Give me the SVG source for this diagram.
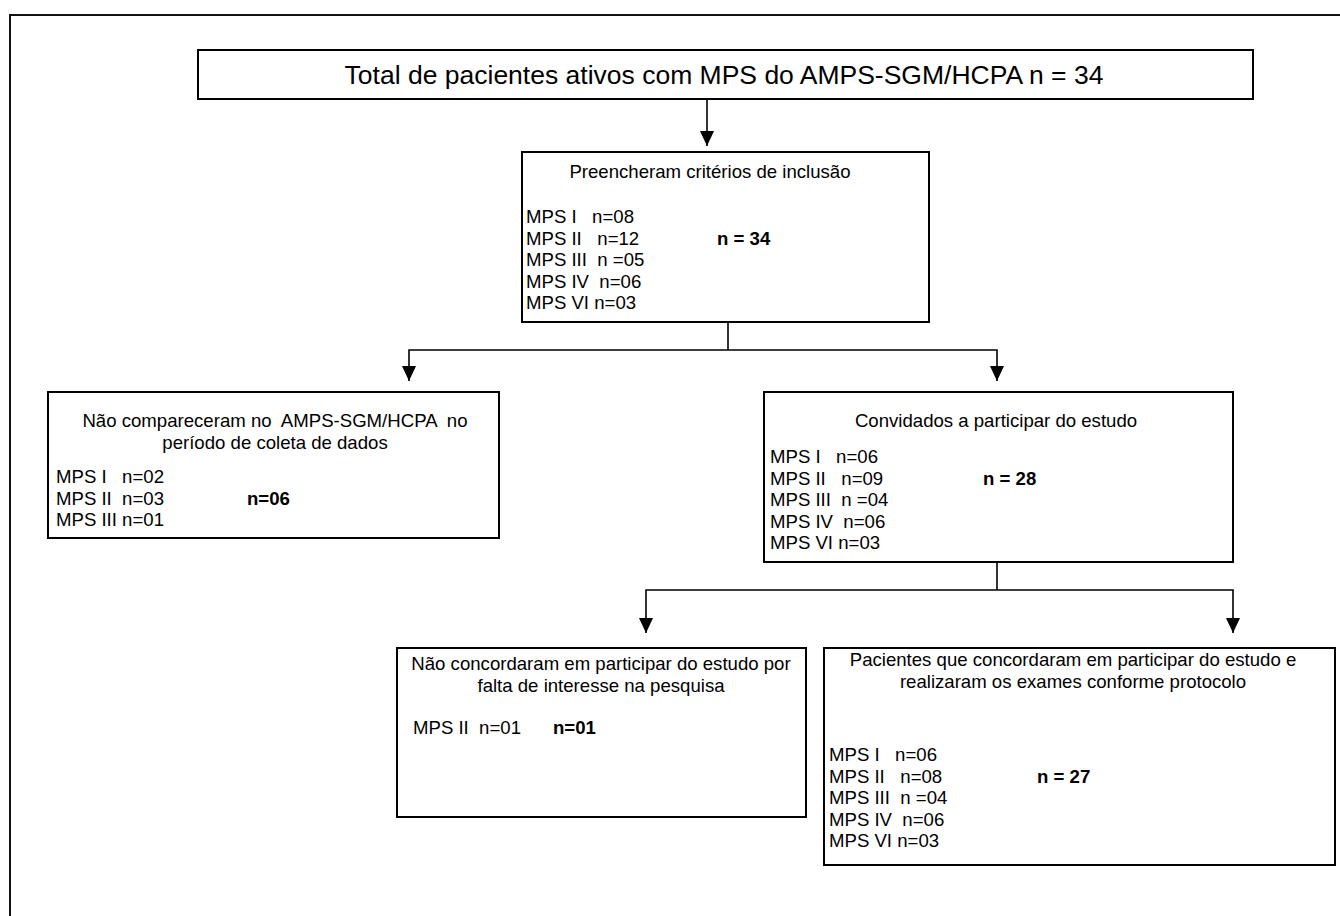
<svg xmlns="http://www.w3.org/2000/svg" width="1340" height="916" viewBox="0 0 1340 916">
<style>
.box{fill:#fff;stroke:#000;stroke-width:2}
.frame{fill:#fff;stroke:#111;stroke-width:2}
.t{font-family:"Liberation Sans",Arial,sans-serif;font-size:18.6px;fill:#000}
.b{font-weight:bold}
.c{text-anchor:middle}
.title{font-family:"Liberation Sans",Arial,sans-serif;font-size:26.5px;fill:#000;text-anchor:middle}
.ln{fill:none;stroke:#000;stroke-width:1.6}
</style>
<defs>
<marker id="ah" viewBox="0 0 15 14" refX="15" refY="7" markerWidth="15" markerHeight="14" markerUnits="userSpaceOnUse" orient="auto">
<path d="M0,0 L15,7 L0,14 z" fill="#000"/>
</marker>
</defs>
<rect class="frame" x="10" y="15" width="1400" height="1000"/>
<g id="connectors">
<line class="ln" x1="707" y1="99" x2="707" y2="146" marker-end="url(#ah)"/>
<polyline class="ln" points="728,322 728,350"/>
<polyline class="ln" points="728,350 409,350 409,381" marker-end="url(#ah)"/>
<polyline class="ln" points="728,350 997,350 997,381" marker-end="url(#ah)"/>
<polyline class="ln" points="997,562 997,590"/>
<polyline class="ln" points="997,590 646,590 646,633" marker-end="url(#ah)"/>
<polyline class="ln" points="997,590 1233,590 1233,633" marker-end="url(#ah)"/>
</g>
<g id="total">
<rect class="box" x="198" y="50" width="1055" height="49"/>
<text class="title" x="724" y="84">Total de pacientes ativos com MPS do AMPS-SGM/HCPA n = 34</text>
</g>
<g id="inclusao">
<rect class="box" x="522" y="152" width="407" height="170"/>
<text class="t c" x="710" y="178">Preencheram critérios de inclusão</text>
<text class="t" x="526" y="223" xml:space="preserve">MPS I   n=08</text>
<text class="t" x="526" y="244.5" xml:space="preserve">MPS II   n=12</text>
<text class="t" x="526" y="266" xml:space="preserve">MPS III  n =05</text>
<text class="t" x="526" y="287.5" xml:space="preserve">MPS IV  n=06</text>
<text class="t" x="526" y="309" xml:space="preserve">MPS VI n=03</text>
<text class="t b" x="717" y="244.5">n = 34</text>
</g>
<g id="naocompareceram">
<rect class="box" x="48" y="392" width="451" height="146"/>
<text class="t c" x="275" y="427" xml:space="preserve">Não compareceram no  AMPS-SGM/HCPA  no</text>
<text class="t c" x="275" y="448.5">período de coleta de dados</text>
<text class="t" x="56" y="483" xml:space="preserve">MPS I   n=02</text>
<text class="t" x="56" y="504.5" xml:space="preserve">MPS II  n=03</text>
<text class="t" x="56" y="526" xml:space="preserve">MPS III n=01</text>
<text class="t b" x="247" y="504.5">n=06</text>
</g>
<g id="convidados">
<rect class="box" x="764" y="392" width="469" height="170"/>
<text class="t c" x="996" y="427">Convidados a participar do estudo</text>
<text class="t" x="770" y="463" xml:space="preserve">MPS I   n=06</text>
<text class="t" x="770" y="484.5" xml:space="preserve">MPS II   n=09</text>
<text class="t" x="770" y="506" xml:space="preserve">MPS III  n =04</text>
<text class="t" x="770" y="527.5" xml:space="preserve">MPS IV  n=06</text>
<text class="t" x="770" y="549" xml:space="preserve">MPS VI n=03</text>
<text class="t b" x="983" y="484.5">n = 28</text>
</g>
<g id="naoconcordaram">
<rect class="box" x="397" y="648" width="409" height="169"/>
<text class="t c" x="601" y="670">Não concordaram em participar do estudo por</text>
<text class="t c" x="601" y="691.5">falta de interesse na pesquisa</text>
<text class="t" x="413" y="734" xml:space="preserve">MPS II  n=01</text>
<text class="t b" x="553" y="734">n=01</text>
</g>
<g id="concordaram">
<rect class="box" x="824" y="648" width="511" height="217"/>
<text class="t c" x="1073" y="666">Pacientes que concordaram em participar do estudo e</text>
<text class="t c" x="1073" y="687.5">realizaram os exames conforme protocolo</text>
<text class="t" x="829" y="761" xml:space="preserve">MPS I   n=06</text>
<text class="t" x="829" y="782.5" xml:space="preserve">MPS II   n=08</text>
<text class="t" x="829" y="804" xml:space="preserve">MPS III  n =04</text>
<text class="t" x="829" y="825.5" xml:space="preserve">MPS IV  n=06</text>
<text class="t" x="829" y="847" xml:space="preserve">MPS VI n=03</text>
<text class="t b" x="1037" y="782.5">n = 27</text>
</g>
</svg>
